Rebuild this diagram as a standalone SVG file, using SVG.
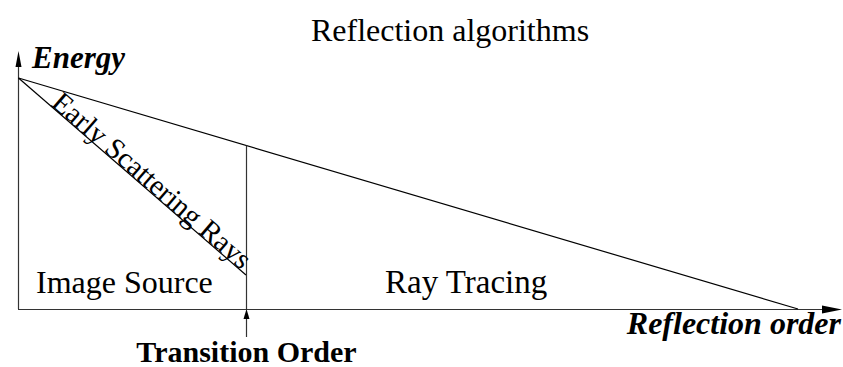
<svg xmlns="http://www.w3.org/2000/svg" width="843" height="367" viewBox="0 0 843 367">
<style>
.ax{stroke:#333;stroke-width:1.2;fill:none}
.ln{stroke:#000;stroke-width:1.2;fill:none}
.t{font-family:"Liberation Serif","Times New Roman",serif;fill:#000}
.bi{font-weight:bold;font-style:italic}
.b{font-weight:bold}
</style>
<defs>
<marker id="ahV" markerWidth="8" markerHeight="18" refX="0" refY="0" viewBox="-4 -9 8 18" markerUnits="userSpaceOnUse" orient="auto-start-reverse">
</marker>
</defs>
<rect width="843" height="367" fill="#fff"/>
<g id="connectors">
<path class="ax" d="M18.5 309 V64"/>
<polygon points="18.5,51 15.5,67 21.5,67" fill="#000"/>
<path class="ax" d="M18 309.5 H826"/>
<polygon points="842,309.5 822,305.5 822,313.5" fill="#000"/>
<path class="ln" d="M18.5 78 L798 309"/>
<path class="ln" d="M18.5 78 L246 275"/>
<path class="ax" d="M246.5 145.5 V309"/>
<path class="ax" d="M246.5 337 V318"/>
<polygon points="246.5,309 243.5,319 249.5,319" fill="#000"/>
</g>
<g id="title"><text class="t" x="450" y="41" font-size="32" text-anchor="middle">Reflection algorithms</text></g>
<g id="energy"><text class="t bi" x="32" y="68" font-size="31">Energy</text></g>
<g id="reflection-order"><text class="t bi" x="841" y="334" font-size="32" text-anchor="end">Reflection order</text></g>
<g id="transition-order"><text class="t b" x="246.5" y="362" font-size="30" text-anchor="middle">Transition Order</text></g>
<g id="image-source"><text class="t" x="36" y="293" font-size="32">Image Source</text></g>
<g id="ray-tracing"><text class="t" x="385" y="293" font-size="33">Ray Tracing</text></g>
<g id="early-scattering"><text class="t" font-size="29" transform="translate(50,105) rotate(40.83)">Early Scattering Rays</text></g>
</svg>
